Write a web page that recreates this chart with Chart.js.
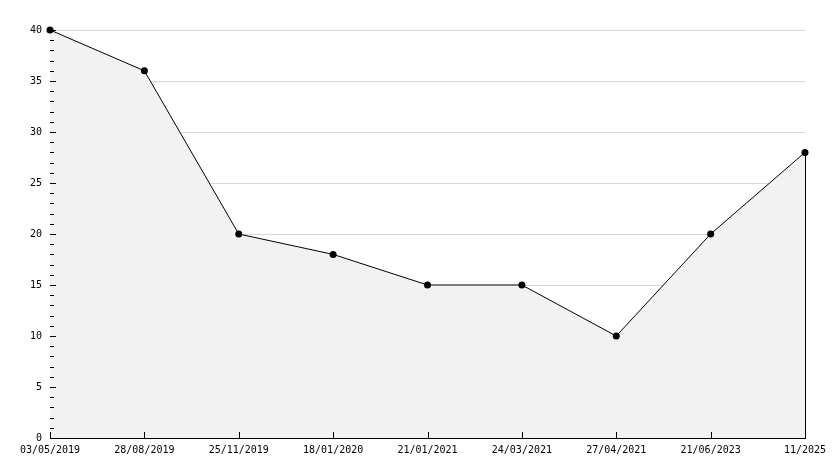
<!DOCTYPE html>
<html>
<head>
<meta charset="utf-8">
<script src="https://cdn.jsdelivr.net/npm/chart.js@4/dist/chart.umd.min.js"></script>
<style>
    html, body { margin: 0; padding: 0; background: #ffffff; }
    #wrap { width: 834px; height: 468px; }
</style>
</head>
<body>
<div id="wrap"><canvas id="grafico"></canvas></div>
<script>
// Dados
const datas = ["03/05/2019", "28/08/2019", "25/11/2019", "18/01/2020", "21/01/2021", "24/03/2021", "27/04/2021", "21/06/2023", "11/2025"];
const valores = [40, 36, 20, 18, 15, 15, 10, 20, 28];
const yMin = 0;
const yMax = 40;
const passoY = 5;

// Marcas dos eixos desenhadas para dentro da área do gráfico
const marcasInternas = {
    id: "marcasInternas",
    afterDraw(chart) {
        const ctx = chart.ctx;
        const x = chart.scales.x;
        const y = chart.scales.y;
        const area = chart.chartArea;
        ctx.save();
        ctx.strokeStyle = "#000";
        ctx.lineWidth = 1;
        ctx.beginPath();
        // marcas do eixo Y (maiores a cada 5, menores a cada 1)
        for (let v = yMin; v <= yMax; v++) {
            const py = Math.round(y.getPixelForValue(v)) + 0.5;
            const len = v % passoY === 0 ? 6 : 4;
            ctx.moveTo(area.left, py);
            ctx.lineTo(area.left + len, py);
        }
        // marcas do eixo X
        datas.forEach((d, i) => {
            const px = Math.round(x.getPixelForValue(i)) + 0.5;
            ctx.moveTo(px, area.bottom);
            ctx.lineTo(px, area.bottom - 6);
        });
        // borda direita da área preenchida
        const ult = valores.length - 1;
        const xu = Math.round(x.getPixelForValue(ult)) + 0.5;
        ctx.moveTo(xu, y.getPixelForValue(valores[ult]));
        ctx.lineTo(xu, area.bottom);
        ctx.stroke();
        ctx.restore();
    }
};

new Chart(document.getElementById("grafico"), {
    type: "line",
    data: {
        labels: datas,
        datasets: [{
            data: valores,
            borderColor: "#000000",
            borderWidth: 1,
            backgroundColor: "#f2f2f2",
            fill: "origin",
            tension: 0,
            clip: false,
            pointRadius: 3.5,
            pointBackgroundColor: "#000000",
            pointBorderColor: "#000000",
            pointBorderWidth: 0
        }]
    },
    options: {
        responsive: true,
        maintainAspectRatio: false,
        animation: false,
        layout: { padding: { top: 30, right: 29, left: 0, bottom: 0 } },
        plugins: {
            legend: { display: false },
            tooltip: { enabled: false }
        },
        scales: {
            x: {
                offset: false,
                grid: { display: false, drawTicks: false },
                border: { display: true, color: "#000000", width: 1 },
                ticks: {
                    autoSkip: false,
                    maxRotation: 0,
                    minRotation: 0,
                    padding: 6,
                    color: "#000000",
                    font: { family: "DejaVu Sans Mono", size: 10 }
                },
                afterFit(scale) { scale.height = 30; }
            },
            y: {
                min: yMin,
                max: yMax,
                grid: {
                    drawTicks: false,
                    color: (c) => (c.tick && c.tick.value === 0) ? "rgba(0,0,0,0)" : "#d8d8d8"
                },
                border: { display: true, color: "#000000", width: 1 },
                ticks: {
                    stepSize: passoY,
                    padding: 8,
                    color: "#000000",
                    font: { family: "DejaVu Sans Mono", size: 10 }
                },
                afterFit(scale) { scale.width = 50; }
            }
        }
    },
    plugins: [marcasInternas]
});
</script>
</body>
</html>
